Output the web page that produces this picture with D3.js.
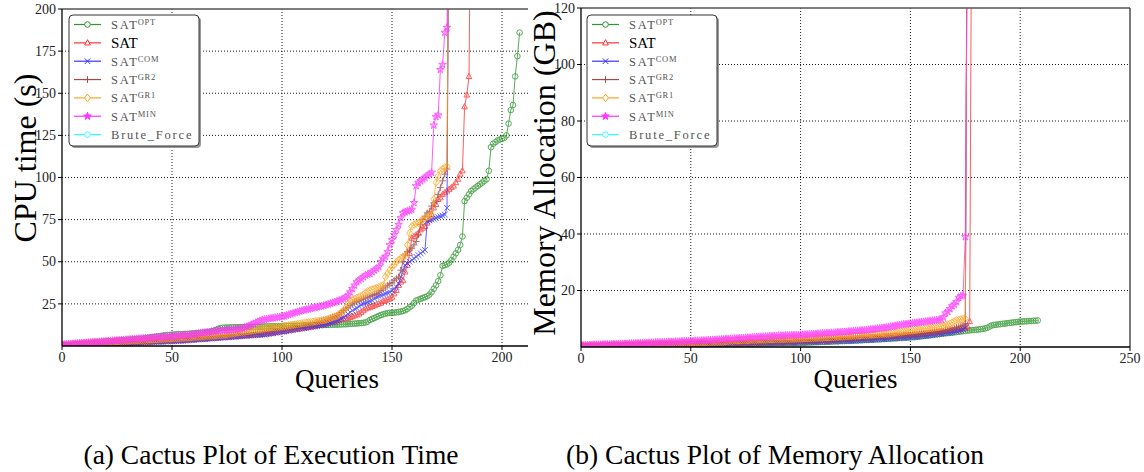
<!DOCTYPE html>
<html>
<head>
<meta charset="utf-8">
<script src="https://cdn.jsdelivr.net/npm/d3@7"></script>
<style>
  body { margin: 0; background: white; }
</style>
</head>
<body>
<div id="chart"></div>
<script>
// x of each point = its index (number of solved queries), y = sorted value
let queryTicks = [0, 50, 100, 150, 200, 250];
let cpuTicks = [25, 50, 75, 100, 125, 150, 175, 200];
let memTicks = [20, 40, 60, 80, 100, 120];

let legendBase = ["SAT", "SAT", "SAT", "SAT", "SAT", "SAT", "Brute_Force"];
let legendSup = ["OPT", "", "COM", "GR2", "GR1", "MIN", ""];

// 1000 = timed out, drawn off the top of the chart
let cpuOpt = [0.4,0.5,0.6,0.7,0.8,0.9,1.0,1.2,1.3,1.4, 1.5,1.6,1.8,1.9,2.0,2.1,2.2,2.4,2.5,2.6,
  2.7,2.8,2.9,3.0,3.1,3.2,3.3,3.4,3.5,3.6, 3.7,3.8,3.9,4.0,4.1,4.2,4.3,4.4,4.6,4.8,
  5.0,5.2,5.4,5.6,5.8,6.0,6.2,6.4,6.5,6.6, 6.7,6.8,6.9,7.0,7.0,7.1,7.2,7.2,7.3,7.4,
  7.5,7.6,7.7,7.8,7.9,8.0,8.2,8.4,8.7,9.0, 9.6,10.2,10.6,10.8,10.9,11.0,11.0,11.1,11.1,11.1,
  11.2,11.2,11.2,11.3,11.3,11.3,11.4,11.4,11.4,11.5, 11.5,11.5,11.6,11.6,11.6,11.7,11.7,11.7,11.8,11.8,
  11.8,11.9,11.9,11.9,12.0,12.0,12.0,12.1,12.1,12.1, 12.2,12.2,12.3,12.3,12.3,12.4,12.4,12.4,12.5,12.5,
  12.5,12.5,12.6,12.6,12.7,12.7,12.8,12.8,12.9,12.9, 13.0,13.1,13.2,13.3,13.4,13.5,13.6,13.8,14.0,14.5,
  15.5,16.0,16.6,17.2,17.8,18.4,18.8,19.2,19.5,19.7, 19.6,19.8,20.0,20.2,20.4,20.8,21.2,22.0,23.0,24.0,
  25.5,27.0,27.5,28.0,28.5,29.0,29.5,30.5,32.0,34.0, 36.0,38.5,42.0,47.5,48.0,48.5,49.5,51.0,53.0,55.0,
  57.0,60.0,65.0,86.0,88.0,90.0,92.0,93.0,94.0,95.0, 96.0,97.0,98.0,99.0,104.0,118.0,120.0,121.0,122.0,122.5,
  123.0,123.5,125.0,132.0,140.0,143.0,160.0,172.0,186.0];
let cpuSat = [0.3,0.4,0.5,0.5,0.6,0.7,0.8,0.9,0.9,1.0, 1.0,1.1,1.1,1.2,1.2,1.3,1.3,1.4,1.4,1.5,
  1.5,1.6,1.6,1.7,1.7,1.8,1.8,1.9,1.9,2.0, 2.0,2.1,2.1,2.2,2.2,2.3,2.3,2.4,2.4,2.5,
  2.5,2.6,2.6,2.7,2.7,2.8,2.8,2.9,2.9,3.0, 3.0,3.1,3.1,3.2,3.2,3.3,3.4,3.5,3.6,3.7,
  3.8,3.9,4.0,4.1,4.2,4.3,4.4,4.5,4.6,4.7, 4.8,4.9,5.0,5.1,5.2,5.3,5.4,5.5,5.6,5.7,
  5.8,5.9,6.0,6.1,6.2,6.3,6.4,6.5,6.6,6.7, 6.8,6.9,7.0,7.2,7.4,7.6,7.8,8.0,8.2,8.4,
  8.6,8.8,9.0,9.2,9.4,9.6,9.8,10.0,10.2,10.4, 10.6,10.8,11.0,11.2,11.5,11.8,12.1,12.4,12.7,13.0,
  13.3,13.6,14.0,14.4,14.8,15.2,15.6,16.0,16.2,16.4, 16.5,17.0,17.5,18.0,18.5,19.0,20.0,21.0,22.0,22.5,
  23.0,23.5,24.0,24.5,25.0,25.5,26.5,27.0,27.5,28.0, 29.0,31.0,33.0,36.0,38.0,39.0,44.0,48.0,55.0,64.0,
  65.0,66.0,67.0,69.0,70.0,71.0,73.0,75.0,78.0,82.0, 84.0,87.0,88.0,90.0,91.0,92.0,93.0,94.0,95.0,97.0,
  99.0,102.0,104.0,142.0,149.0,160.0,1000];
let cpuCom = [0.2,0.3,0.3,0.4,0.4,0.5,0.5,0.6,0.6,0.7, 0.7,0.8,0.8,0.9,0.9,1.0,1.0,1.1,1.1,1.2,
  1.2,1.3,1.3,1.4,1.4,1.5,1.5,1.6,1.6,1.7, 1.7,1.8,1.8,1.9,1.9,2.0,2.0,2.1,2.1,2.2,
  2.2,2.3,2.3,2.4,2.4,2.5,2.5,2.6,2.6,2.7, 2.7,2.8,2.8,2.9,3.0,3.1,3.2,3.3,3.4,3.5,
  3.6,3.7,3.8,3.9,4.0,4.1,4.2,4.3,4.4,4.5, 4.6,4.7,4.8,4.9,5.0,5.1,5.2,5.3,5.4,5.5,
  5.6,5.7,5.8,5.9,6.0,6.1,6.2,6.3,6.4,6.5, 6.6,6.7,6.8,7.0,7.2,7.4,7.6,7.8,8.0,8.2,
  8.4,8.6,8.8,9.0,9.3,9.6,9.9,10.1,10.3,10.5, 10.7,10.9,11.1,11.3,11.5,11.7,11.9,12.1,12.3,12.5,
  12.8,13.2,13.6,14.0,14.5,15.0,15.5,16.2,17.0,18.0, 19.0,20.0,21.0,22.0,22.5,23.5,24.5,25.0,25.5,26.0,
  26.5,27.0,28.0,29.0,29.5,30.0,30.5,31.0,31.5,32.0, 33.0,34.0,35.0,37.0,41.0,45.0,48.0,49.0,50.0,51.0,
  52.0,53.0,54.0,55.0,56.0,57.0,74.0,74.5,75.0,75.5, 76.0,76.5,77.0,77.5,78.0,82.0,1000];
let cpuGr2 = [0.3,0.4,0.4,0.5,0.5,0.6,0.6,0.7,0.7,0.8, 0.8,0.9,0.9,1.0,1.0,1.1,1.1,1.2,1.2,1.3,
  1.3,1.4,1.4,1.5,1.5,1.6,1.6,1.7,1.7,1.8, 1.8,1.9,1.9,2.0,2.0,2.1,2.2,2.3,2.4,2.5,
  2.6,2.7,2.8,2.9,3.0,3.1,3.2,3.3,3.4,3.5, 3.6,3.7,3.8,3.9,4.0,4.1,4.2,4.3,4.4,4.5,
  4.6,4.7,4.8,4.9,5.0,5.1,5.2,5.3,5.4,5.5, 5.6,5.7,5.8,5.9,6.0,6.1,6.2,6.3,6.4,6.5,
  6.6,6.7,6.8,6.9,7.0,7.1,7.2,7.3,7.4,7.6, 7.8,8.0,8.2,8.4,8.6,8.8,9.0,9.2,9.4,9.6,
  9.8,10.0,10.2,10.4,10.6,10.8,11.0,11.2,11.5,11.8, 12.1,12.4,12.7,13.0,13.3,13.6,14.0,14.4,14.8,15.2,
  15.6,16.0,16.5,17.0,17.5,18.0,19.0,20.0,21.0,22.0, 23.0,24.0,25.0,26.0,26.5,27.0,27.5,28.0,28.5,29.0,
  29.5,30.0,30.5,31.0,32.0,33.0,34.0,35.0,36.0,37.0, 37.5,39.0,40.0,41.0,45.0,50.0,54.0,56.0,57.0,58.0,
  60.0,62.0,66.0,72.0,75.0,77.0,79.0,80.0,83.0,85.0, 86.0,90.0,94.0,98.0,102.0,105.0,1000];
let cpuGr1 = [0.6,0.7,0.8,0.9,1.0,1.1,1.2,1.3,1.4,1.5, 1.6,1.7,1.8,1.8,1.9,2.0,2.1,2.1,2.2,2.3,
  2.4,2.4,2.5,2.6,2.7,2.7,2.8,2.9,3.0,3.0, 3.1,3.2,3.3,3.3,3.4,3.5,3.6,3.6,3.7,3.8,
  3.9,3.9,4.0,4.1,4.2,4.2,4.3,4.4,4.5,4.5, 4.6,4.7,4.8,4.8,4.9,5.0,5.1,5.1,5.2,5.3,
  5.4,5.5,5.6,5.7,5.8,5.9,6.0,6.1,6.2,6.3, 6.4,6.5,6.6,6.7,6.8,7.0,7.2,7.4,7.6,7.8,
  8.0,8.2,8.4,8.6,8.8,9.0,9.2,9.4,9.6,9.8, 10.0,10.2,10.4,10.6,10.8,11.0,11.1,11.2,11.3,11.4,
  11.6,11.8,12.0,12.2,12.4,12.6,12.8,13.0,13.2,13.4, 13.6,13.8,14.0,14.2,14.4,14.6,14.8,15.0,15.2,15.4,
  15.6,16.0,16.5,17.0,17.5,18.0,19.0,20.0,21.0,23.0, 25.0,27.0,27.5,28.0,28.5,29.0,29.5,30.5,31.5,32.5,
  33.0,33.5,34.0,34.5,35.0,35.5,36.0,41.0,43.0,45.0, 47.0,48.0,50.0,51.0,52.0,53.0,53.5,60.0,67.0,71.0,
  72.0,72.5,73.0,74.0,75.0,76.0,76.5,77.0,78.0,87.0, 97.0,101.0,104.0,105.0,106.0,106.5,1000];
let cpuMin = [0.8,0.9,1.0,1.1,1.2,1.3,1.4,1.5,1.6,1.7, 1.8,1.9,2.0,2.1,2.2,2.3,2.4,2.5,2.6,2.7,
  2.8,2.9,3.0,3.1,3.2,3.3,3.4,3.5,3.6,3.7, 3.8,3.9,4.0,4.1,4.2,4.3,4.4,4.5,4.6,4.7,
  4.8,4.9,5.0,5.1,5.2,5.3,5.4,5.5,5.6,5.7, 5.8,5.9,6.0,6.1,6.2,6.3,6.4,6.5,6.6,6.8,
  7.0,7.2,7.4,7.6,7.8,8.0,8.2,8.3,8.5,8.6, 8.8,9.0,9.1,9.2,9.3,9.4,9.5,9.6,9.7,9.8,
  10.0,10.3,10.6,11.0,11.5,12.0,12.6,13.2,13.8,14.4, 15.0,15.4,15.7,16.0,16.2,16.4,16.6,16.8,17.0,17.2,
  17.4,17.8,18.2,18.6,19.0,19.4,19.8,20.2,20.6,21.0, 21.3,21.6,21.9,22.2,22.5,22.8,23.1,23.4,23.7,24.0,
  24.4,24.8,25.2,25.6,26.0,26.5,27.0,27.5,28.0,29.0, 30.0,32.0,34.0,36.0,38.0,39.0,40.0,41.0,42.0,42.5,
  43.0,44.0,45.0,46.0,47.0,50.0,52.0,53.0,56.0,60.0, 63.0,66.0,69.0,72.0,76.0,79.0,79.5,80.0,80.5,81.0,
  85.0,95.0,97.0,98.0,99.0,100.0,101.0,102.0,103.0,131.0, 136.0,137.0,164.0,167.0,186.0,189.0,1000];
let cpuBrute = [];

let memOpt = [0.2,0.2,0.2,0.3,0.3,0.3,0.3,0.3,0.4,0.4, 0.4,0.4,0.4,0.4,0.5,0.5,0.5,0.5,0.5,0.5,
  0.5,0.6,0.6,0.6,0.6,0.6,0.6,0.6,0.7,0.7, 0.7,0.7,0.7,0.7,0.7,0.7,0.8,0.8,0.8,0.8,
  0.8,0.8,0.8,0.8,0.9,0.9,0.9,0.9,0.9,0.9, 0.9,0.9,1.0,1.0,1.0,1.0,1.0,1.0,1.0,1.0,
  1.0,1.0,1.0,1.1,1.1,1.1,1.1,1.1,1.1,1.1, 1.1,1.1,1.2,1.2,1.2,1.2,1.2,1.2,1.2,1.2,
  1.2,1.3,1.3,1.3,1.3,1.3,1.3,1.3,1.3,1.4, 1.4,1.4,1.4,1.4,1.4,1.4,1.4,1.4,1.4,1.4,
  1.5,1.5,1.5,1.6,1.6,1.6,1.7,1.7,1.7,1.8, 1.8,1.8,1.9,1.9,1.9,2.0,2.0,2.0,2.1,2.1,
  2.1,2.2,2.2,2.2,2.3,2.3,2.3,2.4,2.4,2.5, 2.5,2.5,2.6,2.6,2.7,2.7,2.7,2.8,2.8,2.9,
  2.9,3.0,3.0,3.1,3.1,3.2,3.2,3.3,3.3,3.4, 3.4,3.5,3.5,3.6,3.7,3.8,3.9,4.0,4.1,4.2,
  4.3,4.4,4.5,4.6,4.7,4.8,4.9,5.0,5.0,5.1, 5.2,5.3,5.4,5.5,5.6,5.7,5.8,5.9,6.0,6.0,
  6.1,6.2,6.3,6.4,6.6,6.8,7.2,7.6,7.8,7.9, 8.0,8.1,8.2,8.3,8.4,8.5,8.6,8.7,8.8,8.9,
  9.0,9.0,9.1,9.1,9.2,9.2,9.3,9.3,9.4];
let memSat = [0.3,0.3,0.3,0.3,0.4,0.4,0.4,0.4,0.4,0.5, 0.5,0.5,0.5,0.5,0.5,0.6,0.6,0.6,0.6,0.6,
  0.6,0.7,0.7,0.7,0.7,0.7,0.7,0.8,0.8,0.8, 0.8,0.8,0.8,0.9,0.9,0.9,0.9,0.9,0.9,1.0,
  1.0,1.0,1.0,1.0,1.0,1.0,1.1,1.1,1.1,1.1, 1.1,1.1,1.1,1.2,1.2,1.2,1.2,1.2,1.2,1.2,
  1.3,1.3,1.3,1.3,1.3,1.3,1.3,1.4,1.4,1.4, 1.4,1.4,1.4,1.4,1.5,1.5,1.5,1.5,1.5,1.5,
  1.5,1.6,1.6,1.6,1.6,1.6,1.6,1.7,1.7,1.7, 1.7,1.7,1.7,1.8,1.8,1.8,1.8,1.8,1.9,1.9,
  1.9,2.0,2.0,2.0,2.1,2.1,2.2,2.2,2.2,2.3, 2.3,2.4,2.4,2.4,2.5,2.5,2.6,2.6,2.6,2.7,
  2.7,2.8,2.8,2.9,2.9,3.0,3.0,3.1,3.1,3.2, 3.2,3.3,3.3,3.4,3.4,3.5,3.5,3.6,3.6,3.7,
  3.7,3.8,3.8,3.9,3.9,4.0,4.0,4.1,4.1,4.2, 4.2,4.3,4.3,4.4,4.5,4.5,4.6,4.7,4.8,4.9,
  5.0,5.1,5.2,5.3,5.4,5.5,5.6,5.7,5.8,5.9, 6.0,6.1,6.2,6.4,6.6,6.8,7.2,9.0,1000];
let memCom = [0.2,0.2,0.2,0.2,0.3,0.3,0.3,0.3,0.3,0.3, 0.4,0.4,0.4,0.4,0.4,0.4,0.4,0.5,0.5,0.5,
  0.5,0.5,0.5,0.5,0.6,0.6,0.6,0.6,0.6,0.6, 0.6,0.7,0.7,0.7,0.7,0.7,0.7,0.7,0.8,0.8,
  0.8,0.8,0.8,0.8,0.8,0.9,0.9,0.9,0.9,0.9, 0.9,0.9,1.0,1.0,1.0,1.0,1.0,1.0,1.0,1.0,
  1.1,1.1,1.1,1.1,1.1,1.1,1.1,1.1,1.2,1.2, 1.2,1.2,1.2,1.2,1.2,1.2,1.3,1.3,1.3,1.3,
  1.3,1.3,1.3,1.3,1.4,1.4,1.4,1.4,1.4,1.4, 1.4,1.4,1.5,1.5,1.5,1.5,1.5,1.5,1.5,1.5,
  1.6,1.6,1.6,1.7,1.7,1.7,1.8,1.8,1.8,1.8, 1.9,1.9,1.9,1.9,2.0,2.0,2.0,2.0,2.1,2.1,
  2.1,2.1,2.2,2.2,2.2,2.3,2.3,2.3,2.4,2.4, 2.4,2.5,2.5,2.6,2.6,2.7,2.7,2.8,2.8,2.9,
  2.9,3.0,3.0,3.1,3.1,3.2,3.2,3.3,3.3,3.4, 3.4,3.5,3.5,3.6,3.7,3.8,3.8,3.9,4.0,4.1,
  4.2,4.3,4.4,4.5,4.6,4.7,4.8,4.9,5.0,5.2, 5.4,5.6,5.8,6.0,6.3,6.7,1000];
let memGr2 = [0.2,0.2,0.3,0.3,0.3,0.3,0.3,0.4,0.4,0.4, 0.4,0.4,0.4,0.5,0.5,0.5,0.5,0.5,0.5,0.6,
  0.6,0.6,0.6,0.6,0.6,0.7,0.7,0.7,0.7,0.7, 0.7,0.8,0.8,0.8,0.8,0.8,0.8,0.9,0.9,0.9,
  0.9,0.9,0.9,1.0,1.0,1.0,1.0,1.0,1.0,1.1, 1.1,1.1,1.1,1.1,1.1,1.2,1.2,1.2,1.2,1.2,
  1.2,1.3,1.3,1.3,1.3,1.3,1.3,1.4,1.4,1.4, 1.4,1.4,1.4,1.5,1.5,1.5,1.5,1.5,1.5,1.6,
  1.6,1.6,1.6,1.6,1.6,1.7,1.7,1.7,1.7,1.7, 1.8,1.8,1.8,1.8,1.8,1.9,1.9,1.9,1.9,2.0,
  2.0,2.0,2.1,2.1,2.1,2.2,2.2,2.2,2.3,2.3, 2.4,2.4,2.4,2.5,2.5,2.6,2.6,2.6,2.7,2.7,
  2.8,2.8,2.9,2.9,3.0,3.0,3.1,3.1,3.2,3.2, 3.3,3.3,3.4,3.4,3.5,3.5,3.6,3.6,3.7,3.7,
  3.8,3.8,3.9,3.9,4.0,4.0,4.1,4.2,4.2,4.3, 4.3,4.4,4.5,4.5,4.6,4.7,4.8,4.8,4.9,5.0,
  5.1,5.2,5.3,5.4,5.5,5.6,5.8,6.0,6.2,6.4, 6.6,6.9,7.2,7.5,7.8,8.2,1000];
let memGr1 = [0.5,0.5,0.5,0.5,0.6,0.6,0.6,0.6,0.6,0.7, 0.7,0.7,0.7,0.7,0.8,0.8,0.8,0.8,0.8,0.9,
  0.9,0.9,0.9,0.9,1.0,1.0,1.0,1.0,1.0,1.1, 1.1,1.1,1.1,1.1,1.2,1.2,1.2,1.2,1.2,1.3,
  1.3,1.3,1.3,1.3,1.4,1.4,1.4,1.4,1.4,1.5, 1.5,1.5,1.5,1.6,1.6,1.6,1.6,1.7,1.7,1.7,
  1.8,1.8,1.8,1.9,1.9,1.9,2.0,2.1,2.2,2.2, 2.3,2.3,2.3,2.4,2.4,2.4,2.4,2.5,2.5,2.5,
  2.5,2.6,2.6,2.6,2.6,2.7,2.7,2.7,2.7,2.8, 2.8,2.8,2.8,2.8,2.9,2.9,2.9,2.9,3.0,3.0,
  3.0,3.0,3.1,3.1,3.1,3.2,3.2,3.2,3.3,3.3, 3.3,3.4,3.4,3.4,3.5,3.5,3.6,3.6,3.7,3.7,
  3.8,3.8,3.9,3.9,4.0,4.0,4.1,4.1,4.2,4.2, 4.3,4.3,4.4,4.4,4.5,4.5,4.6,4.6,4.7,4.7,
  4.8,4.9,5.0,5.1,5.2,5.3,5.4,5.5,5.6,5.7, 5.8,5.9,6.0,6.1,6.2,6.3,6.4,6.5,6.6,6.7,
  6.8,6.9,7.0,7.2,7.4,7.6,7.8,8.0,8.3,8.6, 9.0,9.4,9.6,9.8,9.9,10.0,1000];
let memMin = [0.6,0.6,0.7,0.7,0.7,0.7,0.8,0.8,0.8,0.8, 0.9,0.9,0.9,0.9,1.0,1.0,1.0,1.0,1.1,1.1,
  1.1,1.1,1.2,1.2,1.2,1.3,1.3,1.3,1.4,1.4, 1.4,1.5,1.5,1.5,1.6,1.6,1.6,1.7,1.7,1.7,
  1.8,1.8,1.8,1.9,1.9,1.9,2.0,2.0,2.0,2.1, 2.1,2.1,2.2,2.2,2.2,2.3,2.3,2.3,2.4,2.4,
  2.5,2.5,2.6,2.6,2.7,2.7,2.8,2.8,2.9,2.9, 3.0,3.0,3.1,3.1,3.2,3.2,3.3,3.3,3.4,3.4,
  3.5,3.5,3.6,3.6,3.7,3.7,3.8,3.8,3.9,3.9, 4.0,4.0,4.0,4.1,4.1,4.1,4.2,4.2,4.2,4.2,
  4.3,4.3,4.4,4.4,4.5,4.5,4.6,4.6,4.7,4.7, 4.8,4.8,4.9,4.9,5.0,5.0,5.1,5.2,5.2,5.3,
  5.3,5.4,5.5,5.5,5.6,5.7,5.7,5.8,5.9,5.9, 6.0,6.1,6.2,6.3,6.4,6.5,6.6,6.7,6.8,6.9,
  7.0,7.2,7.3,7.5,7.6,7.8,7.9,8.0,8.1,8.2, 8.3,8.4,8.5,8.6,8.7,8.8,8.9,9.0,9.1,9.2,
  9.3,9.4,9.5,9.6,9.8,10.5,12.0,12.5,13.5,14.5, 15.0,16.0,17.5,18.0,18.2,39.0,1000];
let memBrute = [];

let cpuSeries = [cpuOpt, cpuSat, cpuCom, cpuGr2, cpuGr1, cpuMin, cpuBrute];
let memSeries = [memOpt, memSat, memCom, memGr2, memGr1, memMin, memBrute];

let colors = ["#2e962e", "#ff3535", "#3535ff", "#a34a4a", "#ffa51e", "#ff35ff", "#35ffff"];
let markers = ["circle", "triangle", "x", "plus", "diamond", "star", "circle"];

let width = 1144;
let height = 472;

let svg = d3.select("#chart")
	.append("svg")
	.attr("width", width)
	.attr("height", height)
	.style("background-color", "white");

let defs = svg.append("defs");

function markerPath(type) {
	let r = 2.8;
	if (type == "circle") return d3.symbol(d3.symbolCircle, Math.PI * r * r)();
	if (type == "triangle") return "M0," + (-r * 1.15) + "L" + r + "," + (r * 0.75) + "L" + (-r) + "," + (r * 0.75) + "Z";
	if (type == "x") return "M" + (-r) + "," + (-r) + "L" + r + "," + r + "M" + (-r) + "," + r + "L" + r + "," + (-r);
	if (type == "plus") return "M" + (-r * 1.2) + ",0H" + (r * 1.2) + "M0," + (-r * 1.2) + "V" + (r * 1.2);
	if (type == "diamond") return "M0," + (-r * 1.35) + "L" + (r * 1.05) + ",0L0," + (r * 1.35) + "L" + (-r * 1.05) + ",0Z";
	return d3.symbol(d3.symbolStar, 18)();
}

/*----------------------------------------------*/

function drawPanel(p) {
	let x = d3.scaleLinear().domain([0, 250]).range([p.left, p.right]);
	let y = d3.scaleLinear().domain([0, p.yMax]).range([p.bottom, p.top]);

	defs.append("clipPath").attr("id", p.id)
		.append("rect")
		.attr("x", p.left).attr("y", p.top)
		.attr("width", p.right - p.left).attr("height", p.bottom - p.top);

	let g = svg.append("g");

	// dotted grid
	g.selectAll(".vgrid").data(queryTicks.filter(function(t){return t > 0 && t < 250;}))
		.enter().append("line")
		.attr("x1", function(d){return x(d);}).attr("x2", function(d){return x(d);})
		.attr("y1", p.top).attr("y2", p.bottom)
		.attr("stroke", "#000").attr("stroke-width", 0.9).attr("stroke-dasharray", "1,2");
	g.selectAll(".hgrid").data(p.yTicks.filter(function(t){return t < p.yMax;}))
		.enter().append("line")
		.attr("x1", p.left).attr("x2", p.right)
		.attr("y1", function(d){return y(d);}).attr("y2", function(d){return y(d);})
		.attr("stroke", "#000").attr("stroke-width", 0.9).attr("stroke-dasharray", "1,2");

	// series lines and markers
	let plot = g.append("g").attr("clip-path", "url(#" + p.id + ")");
	let line = d3.line().x(function(d, i){return x(i);}).y(function(d){return y(Math.min(d, p.yMax * 1.5));});

	p.series.forEach(function(values, k) {
		let s = plot.append("g").attr("opacity", 0.8);
		s.append("path")
			.datum(values)
			.attr("d", line)
			.attr("fill", "none")
			.attr("stroke", colors[k])
			.attr("stroke-width", 1);
		s.selectAll(".mark").data(values).enter().append("path")
			.attr("transform", function(d, i){return "translate(" + x(i) + "," + y(Math.min(d, p.yMax * 1.5)) + ")";})
			.attr("d", markerPath(markers[k]))
			.attr("fill", markers[k] == "star" ? colors[k] : "none")
			.attr("fill-opacity", 0.3)
			.attr("stroke", colors[k])
			.attr("stroke-width", 1);
	});

	// frame
	g.append("line").attr("x1", p.left).attr("x2", p.frameRight).attr("y1", p.top).attr("y2", p.top)
		.attr("stroke", "#555").attr("stroke-width", 1.5);
	if (p.frameRight >= p.right) {
		g.append("line").attr("x1", p.right).attr("x2", p.right).attr("y1", p.top).attr("y2", p.bottom)
			.attr("stroke", "#333").attr("stroke-width", 1.3);
	}
	g.append("line").attr("x1", p.left).attr("x2", p.left).attr("y1", p.top).attr("y2", p.bottom)
		.attr("stroke", "#000").attr("stroke-width", 1.3);
	g.append("line").attr("x1", p.left).attr("x2", p.frameRight).attr("y1", p.bottom).attr("y2", p.bottom)
		.attr("stroke", "#000").attr("stroke-width", 1.3);

	// y ticks
	let yt = g.selectAll(".ytick").data(p.yTicks).enter().append("g")
		.attr("transform", function(d){return "translate(" + p.left + "," + y(d) + ")";});
	yt.append("line").attr("x1", -4).attr("x2", 0).attr("stroke", "#000");
	yt.append("text").text(function(d){return d;})
		.attr("x", -6).attr("dy", "0.33em")
		.attr("text-anchor", "end")
		.style("font-family", "'Liberation Serif', serif")
		.style("font-size", "14px")
		.attr("fill", "#222");

	// x ticks
	let xt = g.selectAll(".xtick").data(p.xTicks).enter().append("g")
		.attr("transform", function(d){return "translate(" + x(d) + "," + p.bottom + ")";});
	xt.append("line").attr("y1", 0).attr("y2", 4).attr("stroke", "#000");
	xt.append("text").text(function(d){return d;})
		.attr("y", 16)
		.attr("text-anchor", "middle")
		.style("font-family", "'Liberation Serif', serif")
		.style("font-size", "14px")
		.attr("fill", "#222");

	// axis titles
	g.append("text").text("Queries")
		.attr("x", (p.left + p.right) / 2).attr("y", 388)
		.attr("text-anchor", "middle")
		.style("font-family", "'Liberation Serif', serif")
		.style("font-size", "27px");
	g.append("text").text(p.yLabel)
		.attr("transform", "translate(" + p.yLabelX + "," + p.yLabelY + ") rotate(-90)")
		.attr("text-anchor", "middle")
		.attr("dy", "0.35em")
		.style("font-family", "'Liberation Serif', serif")
		.style("font-size", "32px");

	// caption
	g.append("text").text(p.caption)
		.attr("x", p.captionX).attr("y", 464)
		.attr("text-anchor", "middle")
		.style("font-family", "'Liberation Serif', serif")
		.style("font-size", "27.5px");

	/*----------------------------------------------------*/

	let lg = g.append("g").attr("transform", "translate(" + p.legendX + ", 15)");
	lg.append("rect").attr("x", 2).attr("y", 2).attr("width", 130).attr("height", 131)
		.attr("rx", 4).attr("fill", "#999");
	lg.append("rect").attr("width", 130).attr("height", 131)
		.attr("rx", 4).attr("fill", "white").attr("stroke", "#333").attr("stroke-width", 1);

	let item = lg.selectAll(".legends").data(legendBase).enter().append("g")
		.attr("transform", function(d, i){return "translate(0," + (9.5 + i * 18.35) + ")";});
	item.append("line").attr("x1", 5).attr("x2", 32)
		.attr("stroke", function(d, i){return colors[i];}).attr("stroke-width", 1.2);
	item.append("path")
		.attr("transform", "translate(18.5,0)")
		.attr("d", function(d, i){return markerPath(markers[i]);})
		.attr("fill", function(d, i){return markers[i] == "star" ? colors[i] : "white";})
		.attr("stroke", function(d, i){return colors[i];});
	item.each(function(d, i) {
		let t = d3.select(this).append("text").attr("x", 42).attr("dy", "0.35em");
		if (i == 1) {
			t.text(d).style("font-family", "'Liberation Serif', serif").style("font-size", "15px").attr("fill", "#000");
			return;
		}
		// typewriter look: serif glyphs spread to a fixed pitch
		t.style("font-family", "'Liberation Serif', serif").style("font-size", "12.5px")
			.style("letter-spacing", "1.8px").attr("fill", "#555");
		t.append("tspan").text(d);
		if (legendSup[i]) {
			t.append("tspan").text(legendSup[i]).attr("dy", "-0.45em").attr("dx", -1).style("font-size", "8.5px").style("letter-spacing", "0.8px");
		}
	});
}

drawPanel({id: "clipA", left: 62, right: 612, frameRight: 528, top: 9, bottom: 346,
	yMax: 200, yTicks: cpuTicks, xTicks: [0, 50, 100, 150, 200], series: cpuSeries,
	yLabel: "CPU time (s)", yLabelX: 25, yLabelY: 158, legendX: 69,
	caption: "(a) Cactus Plot of Execution Time", captionX: 271});

// the right figure sits over the end of the left one
svg.append("rect").attr("x", 528).attr("y", 0).attr("width", width - 528).attr("height", 420).attr("fill", "white");

drawPanel({id: "clipB", left: 581, right: 1130, frameRight: 1130, top: 8, bottom: 347,
	yMax: 120, yTicks: memTicks, xTicks: queryTicks, series: memSeries,
	yLabel: "Memory Allocation (GB)", yLabelX: 544, yLabelY: 173, legendX: 587,
	caption: "(b) Cactus Plot of Memory Allocation", captionX: 775});
</script>
</body>
</html>
